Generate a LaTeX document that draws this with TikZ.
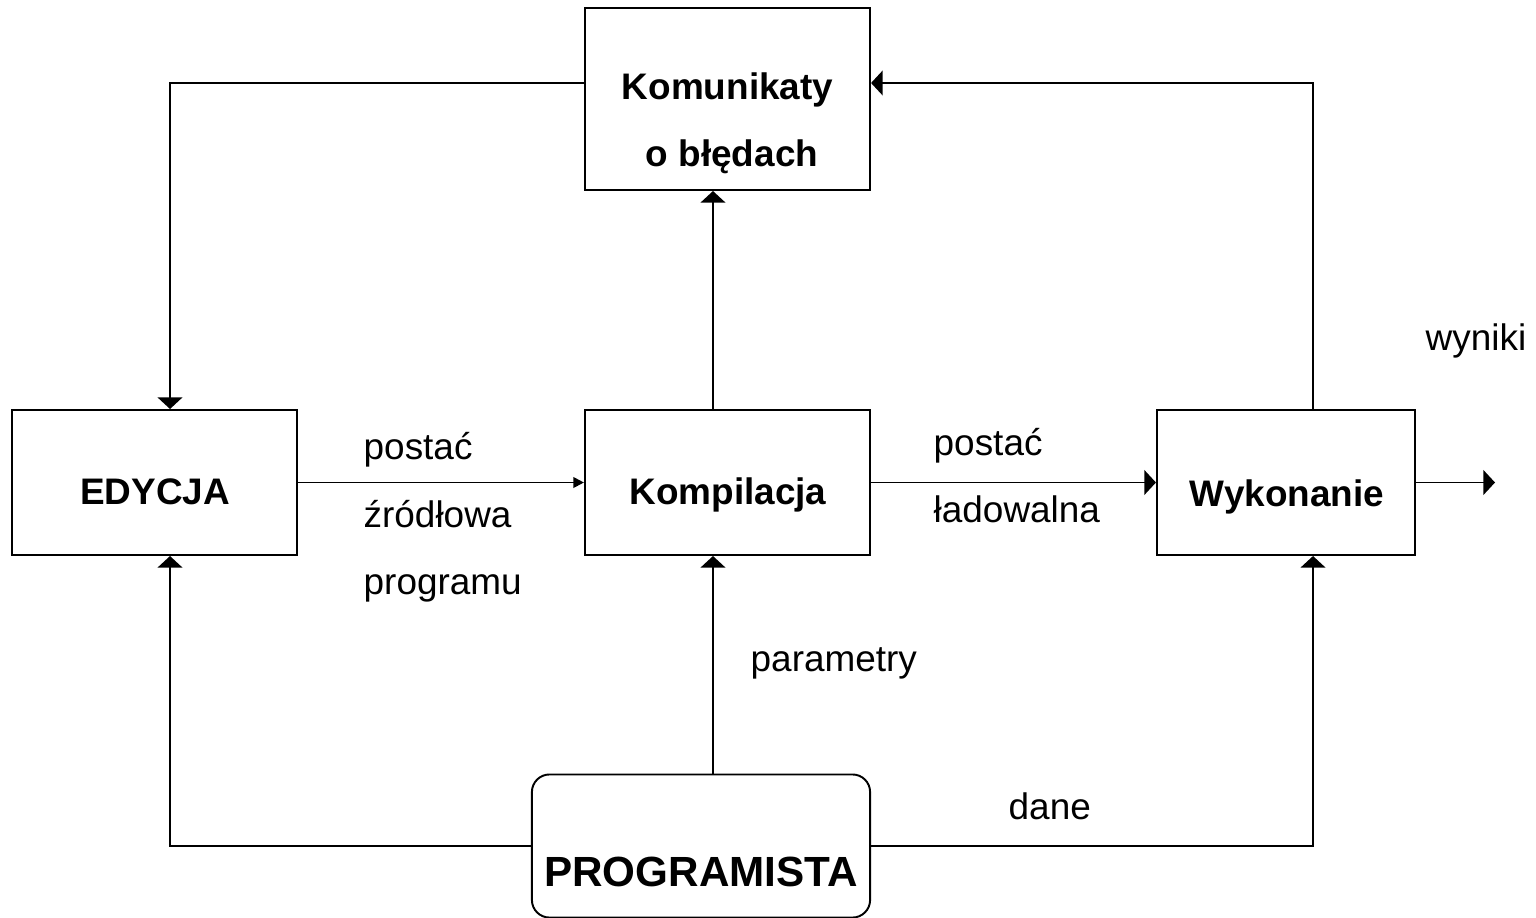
\documentclass[tikz,border=0pt]{standalone}
\usepackage{fontspec}
\setmainfont{Liberation Sans}
\usetikzlibrary{arrows.meta, positioning}
\tikzstyle{blok}=[draw, line width=0.55pt, inner sep=0pt]
\tikzstyle{arrow}=[-{Triangle[length=3.3pt,width=7pt]}, line width=0.55pt]
\tikzstyle{arrowsmall}=[-{Triangle[length=3pt,width=3pt]}, line width=0.55pt]
\tikzstyle{napis}=[font=\fontsize{10.5}{12}\selectfont, inner sep=0pt, anchor=base west]
\tikzstyle{tytul}=[font=\fontsize{10.5}{12}\selectfont\bfseries, inner sep=0pt, anchor=base]

\begin{document}
\begin{tikzpicture}[x=0.01cm, y=-0.01cm]
  \useasboundingbox (0,0) rectangle (1536,918);
  % bloki
  \node[blok, minimum width=2.85cm, minimum height=1.82cm] (komunikaty) at (727.5,99) {};
  \node[blok, minimum width=2.85cm, minimum height=1.45cm] (edycja) at (154.5,482.5) {};
  \node[blok, minimum width=2.85cm, minimum height=1.45cm] (kompilacja) at (727.5,482.5) {};
  \node[blok, minimum width=2.58cm, minimum height=1.45cm] (wykonanie) at (1286,482.5) {};
  \node[blok, rounded corners=5pt, minimum width=3.38cm, minimum height=1.43cm] (programista) at (701,846) {};
  % teksty w blokach
  \node[tytul] (komunikaty-t1) at (727.5,100) {Komunikaty};
  \node[tytul] (komunikaty-t2) at (732,166) {o błędach};
  \node[tytul] (edycja-t) at (155,504) {EDYCJA};
  \node[tytul] (kompilacja-t) at (728,504) {Kompilacja};
  \node[tytul] (wykonanie-t) at (1287,506) {Wykonanie};
  \node[tytul, font=\fontsize{12}{14}\selectfont\bfseries] (programista-t) at (701,886) {PROGRAMISTA};
  % opisy
  \node[napis] (zrodlo1) at (363,459) {postać};
  \node[napis] (zrodlo2) at (363,527) {źródłowa};
  \node[napis] (zrodlo3) at (363,594) {programu};
  \node[napis] (ladow1) at (933,455) {postać};
  \node[napis] (ladow2) at (933,522) {ładowalna};
  \node[napis] (wyniki) at (1425,350) {wyniki};
  \node[napis] (parametry) at (750,671) {parametry};
  \node[napis] (dane) at (1008,819) {dane};
  % polaczenia
  \coordinate (os) at ([xshift=-0.145cm]kompilacja.south);
  \coordinate (wyj) at (1495,482.5);
  \draw[arrow] ([yshift=0.16cm]komunikaty.west) -| ([xshift=0.155cm]edycja.north);
  \draw[arrow] ([xshift=0.27cm]wykonanie.north) |- ([yshift=0.16cm]komunikaty.east);
  \draw[arrowsmall] (edycja.east) -- (kompilacja.west);
  \draw[arrow] ([xshift=-0.145cm]kompilacja.north) -- ([xshift=-0.145cm]komunikaty.south);
  \draw[arrow] (kompilacja.east) -- (wykonanie.west);
  \draw[arrow] (wykonanie.east) -- (wyj);
  \draw[arrow] (programista.west) -| ([xshift=0.155cm]edycja.south);
  \draw[arrow] (os |- programista.north) -- (os);
  \draw[arrow] (programista.east) -| ([xshift=0.27cm]wykonanie.south);
\end{tikzpicture}
\end{document}
